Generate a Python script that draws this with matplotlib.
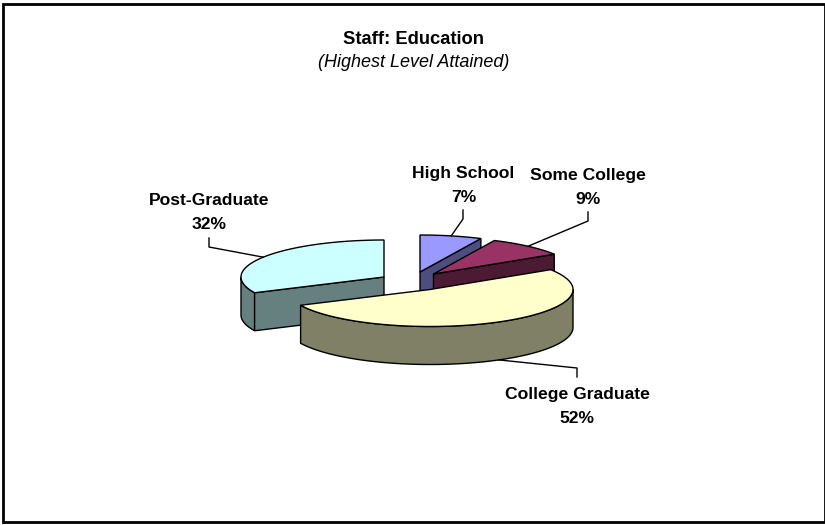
import numpy as np
import matplotlib
matplotlib.use("Agg")
import matplotlib.pyplot as plt

plt.rcParams["font.family"] = ["Liberation Sans", "DejaVu Sans"]

# data
labels = ["High School", "Some College", "College Graduate", "Post-Graduate"]
percents = [7, 9, 52, 32]

# colours, top face then side
top_colors = ["#9999FF", "#993366", "#FFFFCC", "#CCFFFF"]
side_colors = ["#4D4D80", "#4D1A33", "#808066", "#668080"]

# layout, in pixels (each slice is pulled out from the middle of the pie)
slice_centers = [(420, 272), (433.5, 274), (430, 289.5), (384, 277)]
rx = 143
ry = 37
depth = 38
label_pos = [(463.5, 173.5), (588, 175.5), (577, 394.5), (209.5, 200.5)]
elbow_pos = [(463, 219), (588, 221), (577, 368), (209, 247)]
leader_end = [(463, 210), (588, 212), (577, 377), (209, 238)]


# angles are clockwise from 12 o'clock
def rim(center, a0, a1, n=80):
    t = np.radians(np.linspace(a0, a1, n))
    return center[0] + rx * np.sin(t), center[1] - ry * np.cos(t)


fig = plt.figure(figsize=(8.25, 5.25), dpi=100)
ax = fig.add_axes([0, 0, 1, 1])
ax.set_xlim(0, 825)
ax.set_ylim(525, 0)
ax.axis("off")

edges = np.cumsum([0] + percents) * 3.6


def cut_face(i, angle):
    # flat side of a slice between the centre and the rim
    cx, cy = slice_centers[i]
    ex, ey = rim(slice_centers[i], angle, angle, 1)
    ax.fill([cx, ex[0], ex[0], cx], [cy, ey[0], ey[0] + depth, cy + depth],
            facecolor=side_colors[i], edgecolor="black", lw=1)


def round_side(i, a0, a1):
    x, y = rim(slice_centers[i], a0, a1)
    ax.fill(np.r_[x, x[::-1]], np.r_[y, y[::-1] + depth],
            facecolor=side_colors[i], edgecolor="black", lw=1)


def top_face(i):
    cx, cy = slice_centers[i]
    x, y = rim(slice_centers[i], edges[i], edges[i + 1])
    ax.fill(np.r_[cx, x], np.r_[cy, y],
            facecolor=top_colors[i], edgecolor="black", lw=1)


# back slices first, College Graduate goes on top
cut_face(0, edges[1])
top_face(0)

cut_face(1, edges[2])
top_face(1)

round_side(3, edges[3], 270)
cut_face(3, edges[3])
top_face(3)

round_side(2, 90, edges[3])
top_face(2)

# labels and leader lines
for i in range(len(labels)):
    x, y = label_pos[i]
    ax.text(x, y, labels[i], ha="center", va="center", fontsize=12.6, fontweight="bold")
    ax.text(x, y + 24, f"{percents[i]}%", ha="center", va="center", fontsize=12.6, fontweight="bold")

    mid = (edges[i] + edges[i + 1]) / 2
    mx, my = rim(slice_centers[i], mid, mid, 1)
    if i == 2:
        my = my + depth
    ax.plot([leader_end[i][0], elbow_pos[i][0], mx[0]],
            [leader_end[i][1], elbow_pos[i][1], my[0]], color="black", lw=1)

ax.text(413.5, 40, "Staff: Education", ha="center", va="center", fontsize=13.2, fontweight="bold")
ax.text(414, 62.5, "(Highest Level Attained)", ha="center", va="center", fontsize=13, fontstyle="italic")

# chart border
ax.add_patch(plt.Rectangle((3, 3.5), 822, 518.5, fill=False, edgecolor="black", lw=2, clip_on=True))

fig.savefig("out.png", dpi=100)
